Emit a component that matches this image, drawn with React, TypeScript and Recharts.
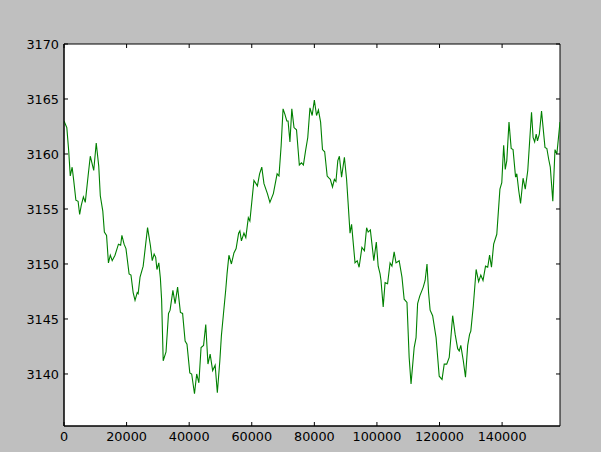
import React from "react";
import { LineChart, Line, XAxis, YAxis, ReferenceArea, CartesianGrid } from "recharts";

const xValues = [
  0, 900, 1500, 2000, 2600, 3100, 3800, 4500, 5000, 5500, 6200, 6800, 7700, 8400, 9500, 10300, 11100, 11600, 12400, 12900,
  13600, 14200, 14800, 15400, 16300, 17400, 18100, 18500, 19200, 19800, 20800, 21400, 22100, 22700, 23400, 23700, 24300, 25300, 26100, 26700,
  27600, 28200, 28800, 29300, 29700, 30300, 30800, 31200, 31700, 32600, 33400, 33900, 34800, 35500, 36300, 37200, 37900, 38700, 39300, 40200,
  40800, 41700, 42400, 43100, 43800, 44600, 45300, 46000, 46700, 47500, 48300, 49000, 49800, 50300, 50900, 51700, 52100, 52700, 53500, 54300,
  55000, 55800, 56200, 56700, 57500, 58100, 58900, 59400, 60700, 61800, 62500, 63200, 63900, 65000, 65800, 66900, 68100, 68700, 69400, 70000,
  70600, 71200, 71600, 72200, 72800, 73500, 74300, 75200, 75900, 76500, 77200, 77900, 78600, 79300, 80000, 80700, 81300, 82000, 82600, 83300,
  84100, 84700, 85100, 85800, 86400, 86900, 87500, 88000, 88700, 89600, 90300, 90800, 91400, 91900, 93000, 93700, 94300, 95200, 96000, 96700,
  97200, 97900, 99000, 99800, 100400, 101000, 101300, 102000, 102600, 103400, 104200, 104800, 105500, 106100, 107100, 108000, 108700, 109600, 110300, 110900,
  111900, 112500, 113000, 113700, 114400, 114800, 115400, 116000, 116500, 117000, 117800, 118900, 119900, 120800, 121500, 122300, 123100, 124200, 125000, 125800,
  126300, 126800, 127600, 128300, 129000, 129600, 130000, 130800, 131700, 132500, 133200, 133900, 134700, 135400, 136000, 136600, 137300, 138300, 139300, 139900,
  140500, 141000, 141500, 142200, 142900, 143500, 144300, 144700, 145300, 145900, 146700, 147400, 148200, 149400, 149900, 150400, 150900, 151300, 151900, 152600,
  153700, 154300, 154900, 155400, 156200, 156900, 157500, 158500,
];

const yValues = [
  3163.0, 3162.4, 3160.3, 3158.0, 3158.8, 3157.6, 3155.8, 3155.7, 3154.5, 3155.3, 3156.1, 3155.6, 3158.0, 3159.8, 3158.5, 3161.0, 3158.9, 3156.2, 3154.8, 3152.9,
  3152.6, 3150.1, 3150.8, 3150.3, 3150.8, 3151.8, 3151.7, 3152.6, 3151.8, 3151.4, 3149.1, 3149.0, 3147.4, 3146.7, 3147.4, 3147.3, 3148.8, 3149.8, 3151.8, 3153.3,
  3151.7, 3150.3, 3150.9, 3150.6, 3149.5, 3150.1, 3148.7, 3146.7, 3141.2, 3142.0, 3145.5, 3145.8, 3147.6, 3146.4, 3147.9, 3145.6, 3145.5, 3143.0, 3142.7, 3140.1,
  3140.0, 3138.2, 3140.0, 3139.2, 3142.4, 3142.6, 3144.5, 3140.9, 3141.8, 3140.3, 3140.8, 3138.3, 3141.2, 3143.5, 3145.3, 3147.7, 3149.1, 3150.8, 3150.0, 3151.0,
  3151.4, 3152.8, 3153.0, 3152.1, 3152.8, 3152.4, 3154.2, 3153.9, 3157.6, 3157.1, 3158.2, 3158.8, 3157.3, 3156.4, 3155.6, 3156.4, 3158.2, 3158.0, 3160.8, 3164.1,
  3163.6, 3163.0, 3163.0, 3161.1, 3164.1, 3162.4, 3162.2, 3159.0, 3159.2, 3159.0, 3160.3, 3161.5, 3164.2, 3163.5, 3164.9, 3163.5, 3164.0, 3162.9, 3160.4, 3160.2,
  3158.0, 3157.8, 3157.7, 3157.0, 3157.7, 3157.5, 3159.4, 3159.8, 3157.9, 3159.7, 3157.7, 3155.5, 3152.8, 3153.6, 3150.1, 3150.3, 3149.7, 3151.5, 3151.2, 3153.3,
  3152.9, 3153.1, 3150.3, 3152.0, 3149.8, 3149.1, 3148.5, 3146.1, 3148.3, 3148.2, 3150.1, 3149.8, 3151.1, 3150.1, 3150.3, 3148.8, 3146.8, 3146.5, 3141.5, 3139.1,
  3142.4, 3143.3, 3146.4, 3147.1, 3147.6, 3147.9, 3148.5, 3150.0, 3147.4, 3145.8, 3145.3, 3143.3, 3139.8, 3139.5, 3140.9, 3140.9, 3141.5, 3145.3, 3143.6, 3142.3,
  3142.1, 3142.6, 3141.2, 3139.7, 3142.6, 3143.6, 3143.9, 3146.2, 3149.5, 3148.4, 3149.0, 3148.5, 3149.8, 3149.7, 3150.8, 3149.7, 3151.8, 3152.7, 3156.8, 3157.4,
  3160.8, 3158.6, 3159.4, 3162.9, 3160.5, 3160.4, 3157.9, 3158.2, 3156.7, 3155.5, 3157.8, 3156.8, 3158.5, 3163.8, 3161.5, 3161.1, 3161.8, 3161.2, 3161.8, 3163.9,
  3160.6, 3160.5, 3159.5, 3158.8, 3155.7, 3160.4, 3160.0, 3162.9,
];

const xTicks = [0, 20000, 40000, 60000, 80000, 100000, 120000, 140000];
const yTicks = [3140, 3145, 3150, 3155, 3160, 3165, 3170];
const xDomain: [number, number] = [0, 158500];
const yDomain: [number, number] = [3135.27, 3170];

const data = xValues.map((x, i) => ({ x, y: yValues[i] }));

const W = 601;
const H = 452;
const PLOT_LEFT = 64;
const PLOT_TOP = 44;
const PLOT_RIGHT = 560;
const PLOT_BOTTOM = 426;
const TICK = 4;
const FONT = "'DejaVu Sans', sans-serif";
const FONT_SIZE = 12.8;

const XTick = (props: any) => {
  const { x, payload } = props;
  return (
    <g>
      <line x1={x} x2={x} y1={PLOT_BOTTOM} y2={PLOT_BOTTOM - TICK} stroke="#000" strokeWidth={1} />
      <line x1={x} x2={x} y1={PLOT_TOP} y2={PLOT_TOP + TICK} stroke="#000" strokeWidth={1} />
      <text x={x} y={PLOT_BOTTOM + 14.7} textAnchor="middle" fontFamily={FONT} fontSize={FONT_SIZE} fill="#000">
        {payload.value}
      </text>
    </g>
  );
};

const YTick = (props: any) => {
  const { y, payload } = props;
  return (
    <g>
      <line x1={PLOT_LEFT} x2={PLOT_LEFT + TICK} y1={y} y2={y} stroke="#000" strokeWidth={1} />
      <line x1={PLOT_RIGHT} x2={PLOT_RIGHT - TICK} y1={y} y2={y} stroke="#000" strokeWidth={1} />
      <text x={PLOT_LEFT - 5} y={y + 4.6} textAnchor="end" fontFamily={FONT} fontSize={FONT_SIZE} fill="#000">
        {payload.value}
      </text>
    </g>
  );
};

export default function App() {
  return (
    <div style={{ position: "absolute", left: 0, top: 0, width: W, height: H, background: "#bfbfbf" }}>
      <LineChart
        width={W}
        height={H}
        data={data}
        margin={{ top: PLOT_TOP, right: W - PLOT_RIGHT, left: 0, bottom: 0 }}
      >
        <CartesianGrid horizontal={false} vertical={false} fill="#ffffff" fillOpacity={1} stroke="none" />
        <XAxis
          dataKey="x"
          type="number"
          domain={xDomain}
          ticks={xTicks}
          allowDataOverflow
          height={H - PLOT_BOTTOM}
          tickSize={0}
          tickLine={false}
          axisLine={{ stroke: "#000", strokeWidth: 1 }}
          tick={<XTick />}
          interval={0}
        />
        <YAxis
          type="number"
          domain={yDomain}
          ticks={yTicks}
          allowDataOverflow
          width={PLOT_LEFT}
          tickSize={0}
          tickLine={false}
          axisLine={{ stroke: "#000", strokeWidth: 1 }}
          tick={<YTick />}
          interval={0}
        />
        <ReferenceArea
          x1={xDomain[0]}
          x2={xDomain[1]}
          y1={yDomain[0]}
          y2={yDomain[1]}
          fill="none"
          fillOpacity={0}
          stroke="#000"
          strokeWidth={1}
          ifOverflow="visible"
        />
        <Line
          type="linear"
          dataKey="y"
          stroke="#008000"
          strokeWidth={1.1}
          dot={false}
          isAnimationActive={false}
        />
      </LineChart>
    </div>
  );
}
